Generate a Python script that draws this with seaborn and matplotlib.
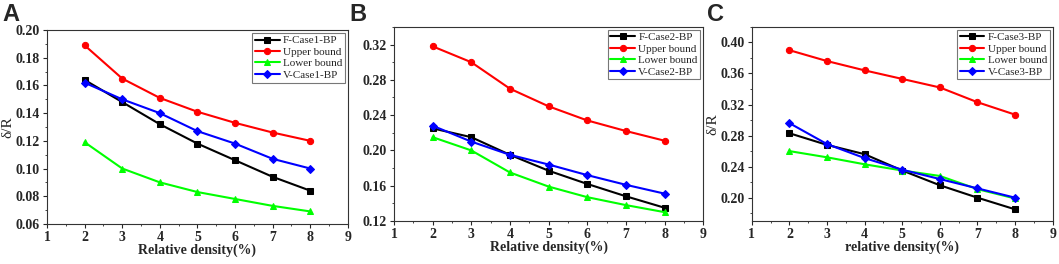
import matplotlib
matplotlib.use("Agg")
import matplotlib.pyplot as plt
import seaborn as sns
from matplotlib.ticker import MultipleLocator, FormatStrFormatter

sns.set_style("ticks")
plt.rcParams['font.family'] = ['Liberation Serif', 'DejaVu Serif']

density = [2, 3, 4, 5, 6, 7, 8]

# panel A
a_f = [0.164, 0.148, 0.132, 0.118, 0.106, 0.094, 0.084]
a_up = [0.189, 0.165, 0.151, 0.141, 0.133, 0.126, 0.120]
a_low = [0.119, 0.100, 0.090, 0.083, 0.078, 0.073, 0.069]
a_v = [0.162, 0.150, 0.140, 0.127, 0.118, 0.107, 0.100]

# panel B
b_f = [0.225, 0.215, 0.195, 0.177, 0.162, 0.148, 0.135]
b_up = [0.318, 0.300, 0.270, 0.250, 0.234, 0.222, 0.211]
b_low = [0.215, 0.200, 0.175, 0.159, 0.147, 0.138, 0.130]
b_v = [0.228, 0.210, 0.195, 0.184, 0.172, 0.161, 0.151]

# panel C
c_f = [0.283, 0.268, 0.256, 0.235, 0.216, 0.200, 0.185]
c_up = [0.390, 0.376, 0.364, 0.353, 0.342, 0.323, 0.307]
c_low = [0.260, 0.252, 0.243, 0.235, 0.228, 0.211, 0.199]
c_v = [0.296, 0.269, 0.251, 0.236, 0.224, 0.212, 0.200]

panels = [
    ("A", "Case1", [a_f, a_up, a_low, a_v], (0.06, 0.20), 0.02, "Relative density(%)", True,
     [0.0444, 0.152, 0.284, 0.734]),
    ("B", "Case2", [b_f, b_up, b_low, b_v], (0.12, 0.34), 0.04, "Relative density(%)", False,
     [0.372, 0.163, 0.292, 0.735]),
    ("C", "Case3", [c_f, c_up, c_low, c_v], (0.17, 0.42), 0.04, "relative density(%)", True,
     [0.710, 0.163, 0.284, 0.735]),
]

colors = ["black", "red", "#00ff00", "blue"]
markers = ["s", "o", "^", "D"]

fig = plt.figure(figsize=(10.59, 2.64), dpi=100)

for letter, case, series, ylim, ystep, xlab, show_ylab, pos in panels:
    ax = fig.add_axes(pos)
    labels = ["F-%s-BP" % case, "Upper bound", "Lower bound", "V-%s-BP" % case]
    for vals, col, mk, lab in zip(series, colors, markers, labels):
        sns.lineplot(x=density, y=vals, ax=ax, color=col, marker=mk, markersize=4.5,
                     markeredgecolor=col, linewidth=1.5, label=lab)
    ax.set_xlim(1, 9)
    ax.set_ylim(*ylim)
    ax.xaxis.set_major_locator(MultipleLocator(1))
    ax.xaxis.set_minor_locator(MultipleLocator(0.5))
    ax.yaxis.set_major_locator(MultipleLocator(ystep))
    ax.yaxis.set_minor_locator(MultipleLocator(ystep / 2))
    ax.yaxis.set_major_formatter(FormatStrFormatter("%.2f"))
    ax.tick_params(which="major", direction="out", length=3, width=0.8, labelsize=10, pad=2)
    ax.tick_params(which="minor", direction="out", length=1.5, width=0.6)
    for t in ax.get_xticklabels() + ax.get_yticklabels():
        t.set_fontweight("bold")
    for sp in ax.spines.values():
        sp.set_visible(True)
        sp.set_linewidth(0.8)
        sp.set_color("#333333")
    ax.set_xlabel(xlab, fontsize=10, fontweight="bold", labelpad=0)
    if show_ylab:
        ax.set_ylabel("δ/R", fontsize=11, labelpad=1)
    else:
        ax.set_ylabel("")
    leg = ax.legend(loc="upper right", fontsize=8, frameon=True, fancybox=False,
                    borderpad=0.25, labelspacing=0.15, handlelength=2.2,
                    handletextpad=0.3, borderaxespad=0.25)
    leg.get_frame().set_edgecolor("#555555")
    leg.get_frame().set_linewidth(0.8)
    fig.text(pos[0] - 0.042, 0.99, letter, fontsize=17, fontweight="bold",
             family="Liberation Sans", va="top", ha="left")

fig.savefig("out.png", dpi=100)
